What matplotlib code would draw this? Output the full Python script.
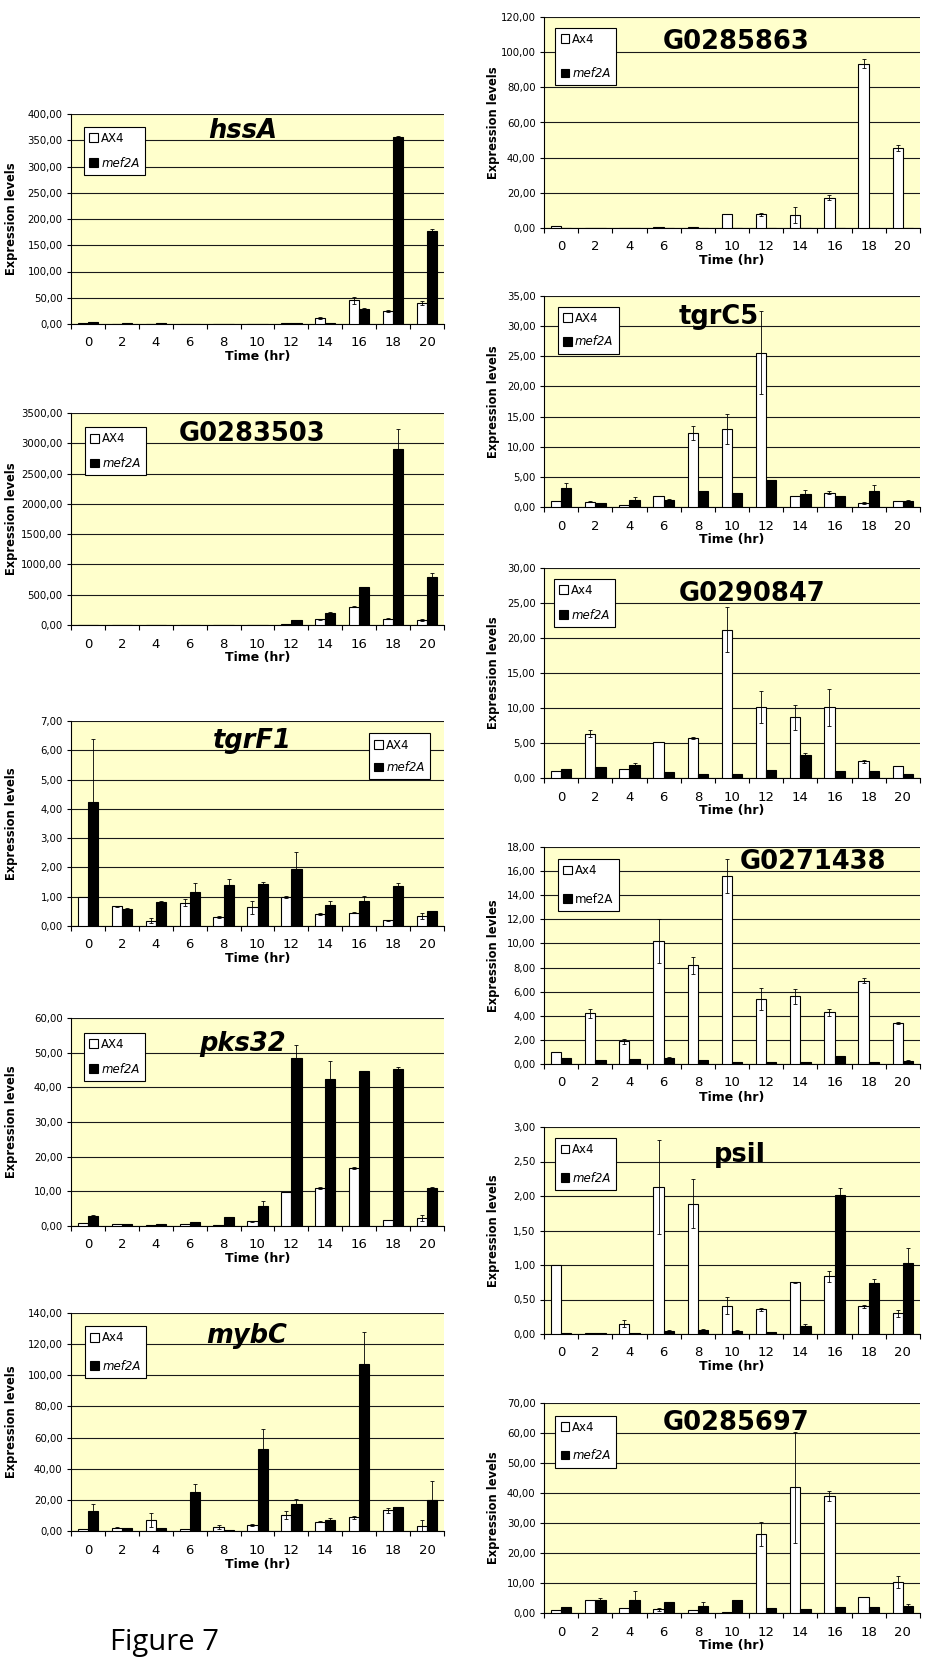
import numpy as np
import matplotlib
matplotlib.use("Agg")
import matplotlib.pyplot as plt
from matplotlib.ticker import FuncFormatter, MultipleLocator

plt.rcParams['font.family'] = ['DejaVu Sans']

times = [0, 2, 4, 6, 8, 10, 12, 14, 16, 18, 20]

# --- data (mean, error) ---
hssA_ax4 = [1.0, 0.5, 0.5, 0.5, 0.5, 0.5, 1.0, 11.0, 45.0, 25.0, 40.0]
hssA_ax4_err = [0, 0, 0, 0, 0, 0, 0, 2.0, 6.0, 1.5, 3.0]
hssA_mef = [3.0, 2.5, 1.0, 0.5, 0.5, 0.5, 1.0, 1.0, 28.0, 357.0, 178.0]
hssA_mef_err = [0.5, 0, 0, 0, 0, 0, 0, 0, 2.0, 1.0, 3.0]

g3503_ax4 = [2, 2, 2, 2, 2, 2, 15, 95, 305, 105, 85]
g3503_ax4_err = [0, 0, 0, 0, 0, 0, 0, 5, 15, 5, 15]
g3503_mef = [2, 2, 2, 2, 2, 2, 80, 200, 620, 2900, 800]
g3503_mef_err = [0, 0, 0, 0, 0, 0, 0, 10, 10, 340, 65]

tgrF1_ax4 = [1.0, 0.67, 0.18, 0.80, 0.30, 0.64, 1.0, 0.40, 0.46, 0.19, 0.35]
tgrF1_ax4_err = [0, 0.02, 0.08, 0.12, 0.03, 0.23, 0.03, 0.03, 0.03, 0.02, 0.11]
tgrF1_mef = [4.25, 0.58, 0.83, 1.17, 1.39, 1.42, 1.94, 0.71, 0.85, 1.35, 0.50]
tgrF1_mef_err = [2.13, 0.04, 0.03, 0.29, 0.21, 0.07, 0.59, 0.14, 0.16, 0.12, 0.02]

pks32_ax4 = [1.0, 0.5, 0.2, 0.5, 0.3, 1.3, 9.8, 10.9, 16.8, 1.7, 2.3]
pks32_ax4_err = [0, 0, 0, 0, 0, 0.2, 0, 0.3, 0.3, 0, 0.8]
pks32_mef = [3.0, 0.7, 0.6, 1.2, 2.5, 5.9, 48.6, 42.5, 44.6, 45.3, 11.1]
pks32_mef_err = [0.2, 0, 0, 0, 0, 1.3, 3.6, 5.1, 0.2, 0.7, 0.2]

mybC_ax4 = [1.0, 2.0, 7.0, 1.3, 2.5, 3.8, 10.2, 6.0, 8.8, 13.2, 3.3]
mybC_ax4_err = [0, 0.3, 4.5, 0, 1.2, 0.8, 2.5, 0.4, 0.8, 1.5, 3.8]
mybC_mef = [13.0, 2.0, 2.0, 25.3, 0.5, 52.5, 17.5, 7.2, 107.5, 15.5, 20.0]
mybC_mef_err = [4.2, 0, 0, 5.0, 0, 13.0, 3.0, 1.4, 20.5, 0, 12.0]

g5863_ax4 = [1.0, 0.2, 0.2, 0.3, 0.4, 8.0, 7.7, 7.3, 17.3, 93.5, 45.5]
g5863_ax4_err = [0, 0, 0, 0, 0, 0, 0.7, 4.5, 1.4, 2.5, 1.5]
g5863_mef = [0.1, 0.1, 0.1, 0.1, 0.1, 0.1, 0.1, 0.1, 0.1, 0.1, 0.1]
g5863_mef_err = [0, 0, 0, 0, 0, 0, 0, 0, 0, 0, 0]

tgrC5_ax4 = [1.0, 0.9, 0.3, 1.8, 12.3, 12.9, 25.6, 1.9, 2.4, 0.7, 1.0]
tgrC5_ax4_err = [0, 0.1, 0, 0, 1.2, 2.5, 6.9, 0, 0.3, 0.2, 0]
tgrC5_mef = [3.2, 0.7, 1.2, 1.2, 2.6, 2.4, 4.4, 2.1, 1.8, 2.6, 1.0]
tgrC5_mef_err = [0.7, 0, 0.5, 0.2, 0, 0, 0, 0.8, 0, 1.0, 0.2]

g0847_ax4 = [1.0, 6.3, 1.3, 5.1, 5.7, 21.2, 10.1, 8.7, 10.1, 2.4, 1.7]
g0847_ax4_err = [0, 0.5, 0, 0, 0.1, 3.2, 2.3, 1.8, 2.6, 0.2, 0]
g0847_mef = [1.3, 1.6, 1.8, 0.8, 0.6, 0.6, 1.2, 3.3, 1.0, 1.0, 0.6]
g0847_mef_err = [0, 0, 0.3, 0, 0, 0, 0, 0.3, 0, 0, 0]

g1438_ax4 = [1.0, 4.2, 1.9, 10.2, 8.2, 15.6, 5.4, 5.6, 4.3, 6.9, 3.4]
g1438_ax4_err = [0, 0.4, 0.2, 1.8, 0.7, 1.4, 0.9, 0.6, 0.3, 0.2, 0.1]
g1438_mef = [0.5, 0.3, 0.4, 0.5, 0.3, 0.2, 0.2, 0.15, 0.7, 0.15, 0.25]
g1438_mef_err = [0, 0, 0, 0.1, 0, 0, 0, 0, 0, 0, 0.1]

psiI_ax4 = [1.0, 0.01, 0.15, 2.13, 1.89, 0.41, 0.36, 0.75, 0.84, 0.40, 0.30]
psiI_ax4_err = [0, 0, 0.05, 0.68, 0.35, 0.12, 0.02, 0.01, 0.08, 0.02, 0.05]
psiI_mef = [0.02, 0.01, 0.01, 0.05, 0.06, 0.04, 0.03, 0.11, 2.02, 0.74, 1.03]
psiI_mef_err = [0, 0, 0, 0.01, 0.01, 0.02, 0, 0.04, 0.09, 0.06, 0.22]

g5697_ax4 = [1.0, 4.2, 1.7, 1.2, 1.0, 0.5, 26.5, 42.0, 39.0, 5.3, 10.5]
g5697_ax4_err = [0, 0, 0, 0.5, 0, 0, 4.0, 18.5, 1.7, 0, 2.0]
g5697_mef = [2.0, 4.3, 4.5, 3.8, 2.5, 4.5, 1.8, 1.3, 2.0, 2.0, 2.5]
g5697_mef_err = [0, 0.8, 2.8, 0, 1.2, 0, 0, 0, 0, 0, 0.5]

W, H = 932, 1661
fig = plt.figure(figsize=(W / 100, H / 100), dpi=100)
fig.patch.set_facecolor('white')


def rect(x0, x1, top, bottom):
    return [x0 / W, 1 - bottom / H, (x1 - x0) / W, (bottom - top) / H]


def fmt(v, pos):
    return f"{v:.2f}".replace('.', ',')


def panel(box, title, title_style, title_xy, data, ymax, ystep, labels, mef_it,
          leg_pos, leg_space, ylabel='Expression levels', ylab_x=-0.143):
    ax4, ax4_err, mef, mef_err = data
    ax = fig.add_axes(rect(*box))
    ax.set_facecolor('#FFFFCC')
    x = np.arange(len(times))
    w = 0.3
    b1 = ax.bar(x - w / 2, ax4, w, color='white', edgecolor='black', lw=0.8, zorder=3, label=labels[0])
    b2 = ax.bar(x + w / 2, mef, w, color='black', edgecolor='black', lw=0.8, zorder=3, label=labels[1])
    for xs, ys, es in [(x - w / 2, ax4, ax4_err), (x + w / 2, mef, mef_err)]:
        es = np.array(es)
        m = es > 0
        ax.errorbar(xs[m], np.array(ys)[m], yerr=es[m], fmt='none', ecolor='black',
                    elinewidth=0.6, capsize=1.6, capthick=0.6, zorder=4)
    ax.set_xlim(-0.5, len(times) - 0.5)
    ax.set_ylim(0, ymax)
    ax.yaxis.set_major_locator(MultipleLocator(ystep))
    ax.yaxis.set_major_formatter(FuncFormatter(fmt))
    ax.grid(axis='y', color='#1a1a1a', lw=0.8, zorder=1)
    ax.get_ygridlines()[-1].set_visible(False)
    ax.set_axisbelow(True)
    for s in ['top', 'right']:
        ax.spines[s].set_visible(False)
    ax.spines['left'].set_linewidth(0.8)
    ax.spines['bottom'].set_linewidth(0.8)
    ax.set_xticks(x)
    ax.set_xticklabels([str(t) for t in times], fontsize=9.5)
    ax.set_xticks(np.arange(-0.5, len(times)), minor=True)
    ax.tick_params(axis='x', which='major', length=0, pad=9)
    ax.tick_params(axis='x', which='minor', length=3.5, width=0.8, direction='out')
    ax.tick_params(axis='y', labelsize=7.3, length=3, width=0.8, pad=3)
    ax.set_ylabel(ylabel, fontsize=8.3, fontweight='bold')
    ax.yaxis.set_label_coords(ylab_x, 0.5)
    ax.set_xlabel('Time (hr)', fontsize=9, fontweight='bold')
    ax.xaxis.set_label_coords(0.5, -0.125)
    ax.text(title_xy[0], title_xy[1], title, transform=ax.transAxes, ha='center', va='center',
            fontsize=18.5, fontweight='bold', fontstyle=title_style, zorder=5)
    loc, anchor = leg_pos
    leg = ax.legend(handles=[b1, b2], loc=loc, bbox_to_anchor=anchor, fontsize=8.5,
                    frameon=True, fancybox=False, edgecolor='black', framealpha=1,
                    handlelength=0.75, handleheight=0.75, handletextpad=0.25,
                    labelspacing=leg_space, borderpad=0.45, borderaxespad=0)
    leg.get_frame().set_linewidth(0.8)
    if mef_it:
        leg.get_texts()[1].set_fontstyle('italic')
    return ax


L0, L1 = 71, 444
R0, R1 = 544, 920

# left column
panel((L0, L1, 114, 324), 'hssA', 'italic', (0.46, 0.92),
      (hssA_ax4, hssA_ax4_err, hssA_mef, hssA_mef_err), 400, 50, ('AX4', 'mef2A'), True,
      ('upper left', (0.035, 0.94)), 1.0)
panel((L0, L1, 413, 625), 'G0283503', 'normal', (0.485, 0.90),
      (g3503_ax4, g3503_ax4_err, g3503_mef, g3503_mef_err), 3500, 500, ('AX4', 'mef2A'), True,
      ('upper left', (0.038, 0.934)), 1.0)
panel((L0, L1, 721, 926), 'tgrF1', 'italic', (0.485, 0.90),
      (tgrF1_ax4, tgrF1_ax4_err, tgrF1_mef, tgrF1_mef_err), 7, 1, ('AX4', 'mef2A'), True,
      ('upper right', (0.962, 0.94)), 0.8)
panel((L0, L1, 1018, 1226), 'pks32', 'italic', (0.46, 0.875),
      (pks32_ax4, pks32_ax4_err, pks32_mef, pks32_mef_err), 60, 10, ('AX4', 'mef2A'), True,
      ('upper left', (0.035, 0.93)), 1.0)
panel((L0, L1, 1313, 1531), 'mybC', 'italic', (0.47, 0.895),
      (mybC_ax4, mybC_ax4_err, mybC_mef, mybC_mef_err), 140, 20, ('Ax4', 'mef2A'), True,
      ('upper left', (0.038, 0.94)), 1.3)

# right column
rx = -0.117
panel((R0, R1, 17, 228), 'G0285863', 'normal', (0.51, 0.88),
      (g5863_ax4, g5863_ax4_err, g5863_mef, g5863_mef_err), 120, 20, ('Ax4', 'mef2A'), True,
      ('upper left', (0.03, 0.95)), 1.8, ylab_x=rx)
panel((R0, R1, 296, 507), 'tgrC5', 'normal', (0.465, 0.90),
      (tgrC5_ax4, tgrC5_ax4_err, tgrC5_mef, tgrC5_mef_err), 35, 5, ('AX4', 'mef2A'), True,
      ('upper left', (0.037, 0.95)), 0.9, ylab_x=rx)
panel((R0, R1, 568, 778), 'G0290847', 'normal', (0.553, 0.876),
      (g0847_ax4, g0847_ax4_err, g0847_mef, g0847_mef_err), 30, 5, ('Ax4', 'mef2A'), True,
      ('upper left', (0.027, 0.95)), 1.0, ylab_x=rx)
panel((R0, R1, 847, 1064), 'G0271438', 'normal', (0.715, 0.93),
      (g1438_ax4, g1438_ax4_err, g1438_mef, g1438_mef_err), 18, 2, ('Ax4', 'mef2A'), False,
      ('upper left', (0.037, 0.945)), 1.3, ylabel='Expression levles', ylab_x=rx)
panel((R0, R1, 1127, 1334), 'psiI', 'normal', (0.52, 0.865),
      (psiI_ax4, psiI_ax4_err, psiI_mef, psiI_mef_err), 3, 0.5, ('Ax4', 'mef2A'), True,
      ('upper left', (0.03, 0.947)), 1.3, ylab_x=rx)
panel((R0, R1, 1403, 1613), 'G0285697', 'normal', (0.51, 0.905),
      (g5697_ax4, g5697_ax4_err, g5697_mef, g5697_mef_err), 70, 10, ('Ax4', 'mef2A'), True,
      ('upper left', (0.03, 0.94)), 1.3, ylab_x=rx)

fig.text(110 / W, 1 - 1650 / H, 'Figure 7', fontsize=21, family=['Open Sans', 'DejaVu Sans'],
         ha='left', va='baseline')

fig.savefig('out.png', dpi=100)
